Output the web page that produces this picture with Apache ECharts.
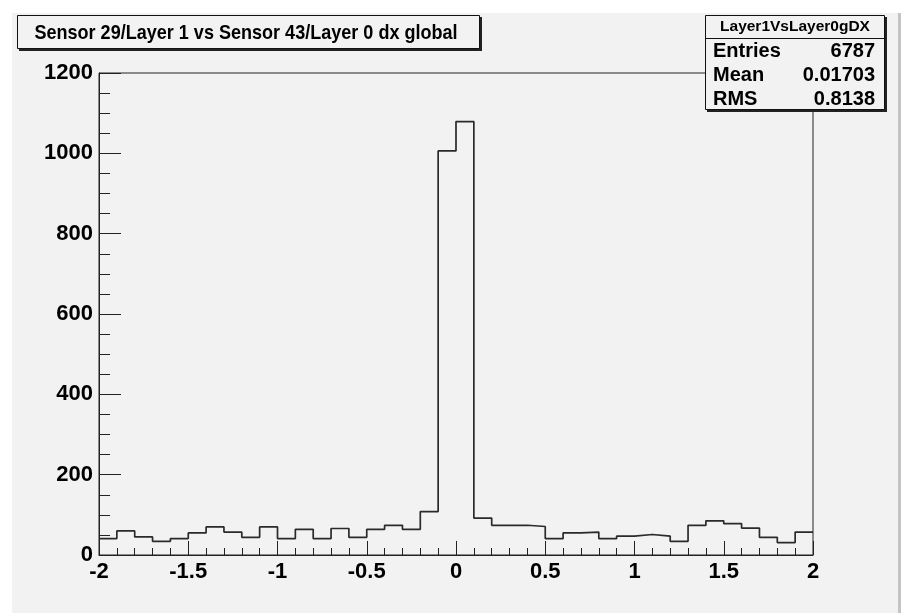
<!DOCTYPE html>
<html>
<head>
<meta charset="utf-8">
<script src="https://cdn.jsdelivr.net/npm/echarts@6/dist/echarts.min.js"></script>
<style>
html,body{margin:0;padding:0;background:#fff;}
#chart{width:901px;height:613px;}
</style>
</head>
<body>
<div id="chart"></div>
<script>
// Histogram: bin low edges (width 0.1) and counts
var binLow = [-2.0,-1.9,-1.8,-1.7,-1.6,-1.5,-1.4,-1.3,-1.2,-1.1,
              -1.0,-0.9,-0.8,-0.7,-0.6,-0.5,-0.4,-0.3,-0.2,-0.1,
               0.0, 0.1, 0.2, 0.3, 0.4, 0.5, 0.6, 0.7, 0.8, 0.9,
               1.0, 1.1, 1.2, 1.3, 1.4, 1.5, 1.6, 1.7, 1.8, 1.9];
var counts = [41,60,45,34,41,55,70,57,44,70,
              41,64,41,66,44,64,74,64,108,1006,
              1079,92,74,74,71,41,55,57,41,47,
              51,47,34,74,85,78,67,44,31,57];
var xMax = 2.0;
var xTicks = [-2,-1.5,-1,-0.5,0,0.5,1,1.5,2];
var yTicks = [0,200,400,600,800,1000,1200];
var titleText = 'Sensor 29/Layer 1 vs Sensor 43/Layer 0 dx global';
var statsName = 'Layer1VsLayer0gDX';
var statsLabels = ['Entries','Mean','RMS'];
var statsValues = ['6787','0.01703','0.8138'];

var pts = binLow.map(function(x,i){return [x, counts[i]];});
pts.push([xMax, counts[counts.length-1]]);

var chart = echarts.init(document.getElementById('chart'), null, {renderer:'canvas'});
var font = 'Liberation Sans, Arial, Helvetica, sans-serif';
var statsEls = [];
statsLabels.forEach(function(l,i){
  statsEls.push({type:'text', left:713, top:41+i*24, z:102,
    style:{text:l, font:'bold 20px '+font, fill:'#000'}});
  statsEls.push({type:'text', right:901-875, top:41+i*24, z:102,
    style:{text:statsValues[i], font:'bold 20px '+font, fill:'#000', textAlign:'right'}});
});

chart.setOption({
  animation:false,
  backgroundColor:'#ffffff',
  graphic:[
    {type:'rect', shape:{x:12,y:13,width:886,height:600}, style:{fill:'#f2f2f2'}, z:-10},
    {type:'rect', shape:{x:898,y:13,width:3,height:600}, style:{fill:'#c4c4c4'}, z:-10},
    // title box
    {type:'rect', shape:{x:19,y:17,width:463,height:34}, style:{fill:'#222'}, z:90},
    {type:'rect', shape:{x:17.5,y:15.5,width:462,height:33}, style:{fill:'#f2f2f2', stroke:'#111', lineWidth:1}, z:91},
    {type:'text', x:246, y:33, scaleX:0.88, z:92, style:{text:titleText, font:'bold 20.5px '+font, fill:'#000', textAlign:'center', textVerticalAlign:'middle'}},
    // stats box
    {type:'rect', shape:{x:707,y:17,width:180,height:95}, style:{fill:'#222'}, z:100},
    {type:'rect', shape:{x:705.5,y:15.5,width:179,height:94}, style:{fill:'#f2f2f2', stroke:'#111', lineWidth:1}, z:101},
    {type:'line', shape:{x1:705.5,y1:38.5,x2:884.5,y2:38.5}, style:{stroke:'#111', lineWidth:1}, z:102},
    {type:'text', x:795, y:27, z:102, style:{text:statsName, font:'bold 15.5px '+font, fill:'#000', textAlign:'center', textVerticalAlign:'middle'}}
  ].concat(statsEls),
  grid:{left:99, right:88, top:73, bottom:58, show:true, borderColor:'#222', borderWidth:1, backgroundColor:'transparent'},
  xAxis:{
    type:'value', min:xTicks[0], max:xTicks[xTicks.length-1], interval:0.5,
    axisLine:{show:true, onZero:false, lineStyle:{color:'#222', width:1}},
    axisTick:{show:true, inside:true, length:14, lineStyle:{color:'#222'}},
    minorTick:{show:true, splitNumber:5, length:7, lineStyle:{color:'#222'}},
    splitLine:{show:false},
    axisLabel:{color:'#000', fontSize:22, fontWeight:'bold', fontFamily:font, margin:6,
      formatter:function(v){return String(v);}}
  },
  yAxis:{
    type:'value', min:yTicks[0], max:yTicks[yTicks.length-1], interval:200,
    axisLine:{show:true, onZero:false, lineStyle:{color:'#222', width:1}},
    axisTick:{show:true, inside:true, length:22, lineStyle:{color:'#222'}},
    minorTick:{show:true, splitNumber:4, length:11, lineStyle:{color:'#222'}},
    splitLine:{show:false},
    axisLabel:{color:'#000', fontSize:22, fontWeight:'bold', fontFamily:font, margin:6,
      formatter:function(v){return String(v);}}
  },
  series:[{
    type:'line', step:'end', data:pts, symbol:'none',
    lineStyle:{color:'#2a2a2a', width:1.7}, z:5
  }]
});
</script>
</body>
</html>
